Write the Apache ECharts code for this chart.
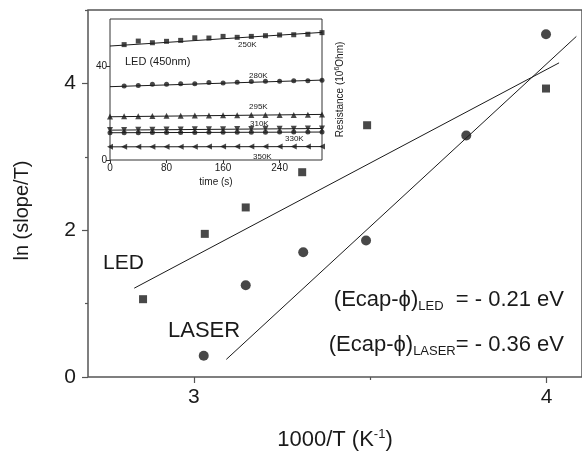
<!DOCTYPE html>
<html>
<head>
<meta charset="utf-8">
<script src="https://cdn.jsdelivr.net/npm/echarts@6/dist/echarts.min.js"></script>
<style>
html, body { margin: 0; padding: 0; background: #fff; }
#main { width: 582px; height: 458px; }
</style>
</head>
<body>
<div id="main"></div>
<script>
// main plot: ln(slope/T) vs 1000/T
var ledPts = [[2.856, 1.06], [3.031, 1.95], [3.147, 2.31], [3.307, 2.79], [3.491, 3.43], [3.998, 3.93]];
var laserPts = [[3.028, 0.29], [3.147, 1.25], [3.31, 1.70], [3.488, 1.86], [3.772, 3.29], [3.998, 4.67]];
var ledFit = [[2.831, 1.21], [4.035, 4.28]];
var laserFit = [[3.092, 0.24], [4.084, 4.64]];
var xTicks = [3, 4];
var xMinor = [3.5];
var yTicks = [0, 2, 4];
var yMinor = [1, 3, 5];

// inset: resistance vs time
var tAll = [0, 20, 40, 60, 80, 100, 120, 140, 160, 180, 200, 220, 240, 260, 280, 300];
var tLate = tAll.slice(1);
var r250 = [49.1, 50.6, 49.9, 50.5, 50.9, 52.0, 51.9, 52.6, 52.2, 52.6, 52.9, 53.2, 53.3, 53.5, 54.2];
var r280 = [31.5, 31.7, 32.2, 32.2, 32.5, 32.4, 33.0, 32.8, 33.1, 33.4, 33.5, 33.5, 33.7, 33.7, 33.9];
var r295 = [18.5, 18.6, 18.6, 18.7, 18.8, 18.8, 18.9, 18.9, 19.0, 19.0, 19.1, 19.1, 19.2, 19.2, 19.3, 19.4];
var r310 = [12.8, 12.8, 12.9, 12.9, 13.0, 13.0, 13.1, 13.1, 13.1, 13.2, 13.2, 13.3, 13.3, 13.3, 13.4, 13.4];
var r330 = [11.6, 11.6, 11.6, 11.7, 11.7, 11.7, 11.7, 11.8, 11.8, 11.8, 11.8, 11.8, 11.9, 11.9, 11.9, 11.9];
var r350 = [5.6, 5.6, 5.6, 5.6, 5.6, 5.6, 5.6, 5.7, 5.7, 5.7, 5.7, 5.7, 5.7, 5.7, 5.7, 5.7];
var fit250 = [[0, 48.5], [300, 54.3]];
var fit280 = [[0, 31.2], [300, 34.0]];
var fit295 = [[0, 18.4], [300, 19.4]];
var fit310 = [[0, 12.7], [300, 13.4]];
var fit330 = [[0, 11.6], [300, 11.9]];
var fit350 = [[0, 5.6], [300, 5.7]];

function pair(xs, ys) {
	var out = [];
	for (var i = 0; i < ys.length; i++) out.push([xs[i], ys[i]]);
	return out;
}

var font = 'Liberation Sans, Arial, sans-serif';
var ink = '#1a1a1a';

var myChart = echarts.init(document.getElementById('main'));

function insetScatter(data, symbol, size, rot) {
	return {
		type: 'scatter', xAxisIndex: 2, yAxisIndex: 2, data: data,
		symbol: symbol, symbolSize: size, symbolRotate: rot || 0,
		itemStyle: { color: ink }, z: 5, silent: true
	};
}
function insetLine(data) {
	return {
		type: 'line', xAxisIndex: 2, yAxisIndex: 2, data: data, showSymbol: false,
		lineStyle: { color: ink, width: 1 }, z: 4, silent: true
	};
}

var subStyle = { fontSize: 13, verticalAlign: 'bottom', padding: [13, 0, 0, 0], fill: ink, fontFamily: font };

var option = {
	backgroundColor: '#fff',
	animation: false,
	textStyle: { fontFamily: font },
	grid: [
		// frame of the main plot comes from the grid border
		{ left: 88, top: 10, right: -3, bottom: 81, show: true, borderColor: '#555', borderWidth: 1.5, backgroundColor: 'transparent' },
		{ left: 110, top: 19, width: 212, height: 141, show: true, backgroundColor: '#fff', borderColor: '#333', borderWidth: 1 }
	],
	xAxis: [
		{
			type: 'value', gridIndex: 0, min: 2.7, max: 4.1,
			name: '1000/T (K{sup|-1})', nameLocation: 'middle', nameGap: 51,
			nameTextStyle: {
				fontSize: 22, color: ink, fontFamily: font,
				rich: { sup: { fontSize: 13, verticalAlign: 'top', padding: [0, 0, 11, 0], color: ink, fontFamily: font } }
			},
			axisLine: { show: false },
			axisTick: { show: true, length: 6, customValues: xTicks, lineStyle: { color: '#555', width: 1.2 } },
			axisLabel: { customValues: xTicks, fontSize: 21, color: ink, margin: 10 },
			splitLine: { show: false }
		},
		{
			type: 'value', gridIndex: 0, min: 2.7, max: 4.1, position: 'bottom',
			axisLine: { show: false },
			axisTick: { show: true, length: 3, customValues: xMinor, lineStyle: { color: '#555', width: 1.2 } },
			axisLabel: { show: false }, splitLine: { show: false }
		},
		{
			type: 'value', gridIndex: 1, min: 0, max: 300, interval: 80,
			name: 'time (s)', nameLocation: 'middle', nameGap: 17,
			nameTextStyle: { fontSize: 10, color: ink },
			axisLine: { show: false },
			axisTick: { show: true, length: 3, lineStyle: { color: '#333' } },
			axisLabel: { fontSize: 10, color: ink, margin: 3, showMaxLabel: false },
			splitLine: { show: false }
		}
	],
	yAxis: [
		{
			type: 'value', gridIndex: 0, min: 0, max: 5,
			name: 'ln (slope/T)', nameLocation: 'middle', nameGap: 56,
			nameTextStyle: { fontSize: 20, color: ink, padding: [0, 34, 0, 0] },
			axisLine: { show: false },
			axisTick: { show: true, length: 6, customValues: yTicks, lineStyle: { color: '#555', width: 1.2 } },
			axisLabel: { customValues: yTicks, fontSize: 21, color: ink, margin: 12 },
			splitLine: { show: false }
		},
		{
			type: 'value', gridIndex: 0, min: 0, max: 5, position: 'left',
			axisLine: { show: false },
			axisTick: { show: true, length: 3, customValues: yMinor, lineStyle: { color: '#555', width: 1.2 } },
			axisLabel: { show: false }, splitLine: { show: false }
		},
		{
			type: 'value', gridIndex: 1, min: 0, max: 60, interval: 40,
			axisLine: { show: false },
			axisTick: { show: true, length: 4, lineStyle: { color: '#333' } },
			axisLabel: { fontSize: 10, color: ink, margin: 3, showMaxLabel: false },
			splitLine: { show: false }
		},
		{
			type: 'value', gridIndex: 1, min: 0, max: 60, position: 'right',
			name: 'Resistance (10{sup|6}Ohm)', nameLocation: 'middle', nameGap: 12, nameRotate: 90,
			nameTextStyle: {
				fontSize: 10, color: ink,
				rich: { sup: { fontSize: 7, verticalAlign: 'top', padding: [0, 0, 6, 0], color: ink } }
			},
			axisLine: { show: false },
			axisTick: { show: false }, axisLabel: { show: false }, splitLine: { show: false }
		}
	],
	series: [
		{
			type: 'line', xAxisIndex: 0, yAxisIndex: 0, data: ledFit, showSymbol: false,
			lineStyle: { color: ink, width: 1 }, silent: true
		},
		{
			type: 'line', xAxisIndex: 0, yAxisIndex: 0, data: laserFit, showSymbol: false,
			lineStyle: { color: ink, width: 1 }, silent: true
		},
		{
			type: 'scatter', xAxisIndex: 0, yAxisIndex: 0, data: ledPts,
			symbol: 'rect', symbolSize: 8, itemStyle: { color: ink }
		},
		{
			type: 'scatter', xAxisIndex: 0, yAxisIndex: 0, data: laserPts,
			symbol: 'circle', symbolSize: 10, itemStyle: { color: ink }
		},
		insetLine(fit250), insetScatter(pair(tLate, r250), 'rect', 5),
		insetLine(fit280), insetScatter(pair(tLate, r280), 'circle', 5),
		insetLine(fit295), insetScatter(pair(tAll, r295), 'triangle', 6),
		insetLine(fit310), insetScatter(pair(tAll, r310), 'triangle', 6, 180),
		insetLine(fit330), insetScatter(pair(tAll, r330), 'circle', 5),
		insetLine(fit350), insetScatter(pair(tAll, r350), 'triangle', 6, 90)
	],
	graphic: [
		{ type: 'text', left: 103, top: 253, z: 10, style: { text: 'LED', font: '21px ' + font, fill: ink } },
		{ type: 'text', left: 168, top: 320, z: 10, style: { text: 'LASER', font: '22px ' + font, fill: ink } },
		{
			type: 'text', right: 18, top: 289, z: 10,
			style: { text: '(Ecap-ϕ){sub|LED}  = - 0.21 eV', font: '22px ' + font, fill: ink, rich: { sub: subStyle } }
		},
		{
			type: 'text', right: 18, top: 334, z: 10,
			style: { text: '(Ecap-ϕ){sub|LASER}= - 0.36 eV', font: '22px ' + font, fill: ink, rich: { sub: subStyle } }
		},
		{ type: 'text', left: 125, top: 56, z: 10, style: { text: 'LED (450nm)', font: '11px ' + font, fill: ink } },
		{ type: 'text', left: 238, top: 41, z: 10, style: { text: '250K', font: '8px ' + font, fill: ink } },
		{ type: 'text', left: 249, top: 72, z: 10, style: { text: '280K', font: '8px ' + font, fill: ink } },
		{ type: 'text', left: 249, top: 103, z: 10, style: { text: '295K', font: '8px ' + font, fill: ink } },
		{ type: 'text', left: 250, top: 120, z: 10, style: { text: '310K', font: '8px ' + font, fill: ink } },
		{ type: 'text', left: 285, top: 135, z: 10, style: { text: '330K', font: '8px ' + font, fill: ink } },
		{ type: 'text', left: 253, top: 153, z: 10, style: { text: '350K', font: '8px ' + font, fill: ink } }
	]
};
myChart.setOption(option);
</script>
</body>
</html>
